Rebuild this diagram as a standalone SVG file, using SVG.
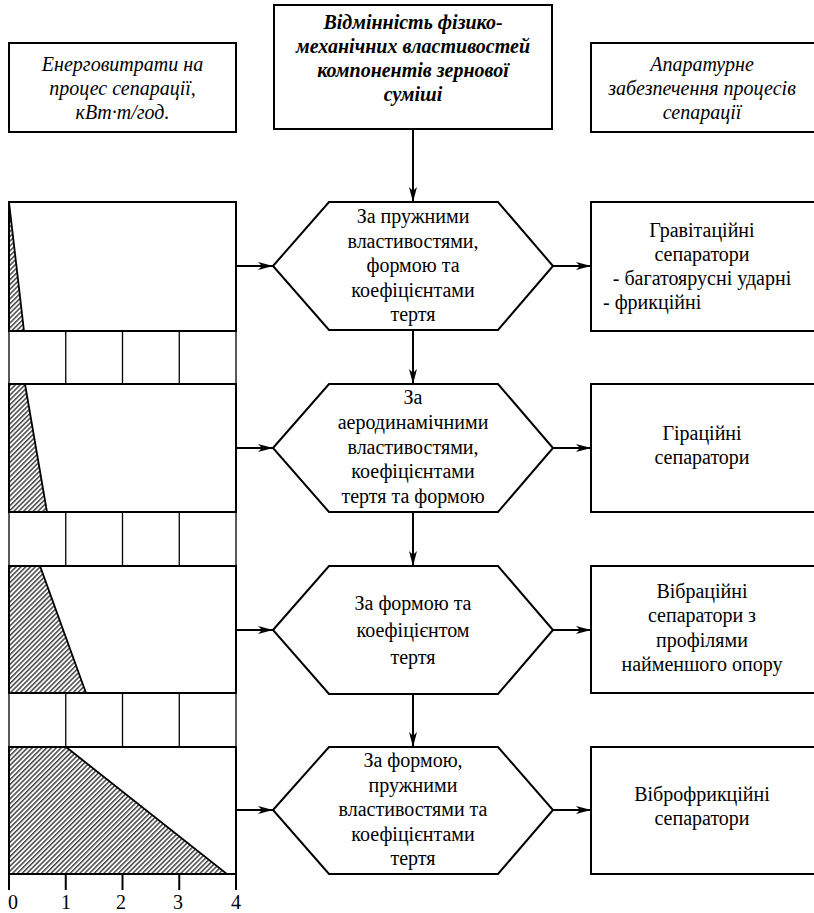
<svg xmlns="http://www.w3.org/2000/svg" width="814" height="913" viewBox="0 0 814 913">
<defs>
<pattern id="hatch" patternUnits="userSpaceOnUse" width="3.4" height="3.4" patternTransform="rotate(45)">
<rect width="3.4" height="3.4" fill="#fff"/>
<line x1="0.8" y1="0" x2="0.8" y2="3.4" stroke="#000" stroke-width="1.1"/>
</pattern>
<marker id="arr" markerUnits="userSpaceOnUse" markerWidth="16" markerHeight="10" refX="15" refY="5" orient="auto">
<path d="M0,1 L15,5 L0,9 L4,5 z" fill="#000"/>
</marker>
</defs>
<rect width="814" height="913" fill="#fff"/>

<g id="energy-header">
<rect x="9" y="43" width="227" height="89" fill="#fff" stroke="#000" stroke-width="2"/>
<text x="122.5" y="71" text-anchor="middle" style="font-family:'Liberation Serif','Times New Roman',serif;font-size:20px;font-style:italic">Енерговитрати на</text>
<text x="122.5" y="95" text-anchor="middle" style="font-family:'Liberation Serif','Times New Roman',serif;font-size:20px;font-style:italic">процес сепарації,</text>
<text x="122.5" y="119" text-anchor="middle" style="font-family:'Liberation Serif','Times New Roman',serif;font-size:20px;font-style:italic">кВт·т/год.</text>
</g>
<g id="main-header">
<rect x="274" y="5" width="278" height="124" fill="#fff" stroke="#000" stroke-width="2"/>
<text x="413" y="29" text-anchor="middle" style="font-family:'Liberation Serif','Times New Roman',serif;font-size:20px;font-style:italic;font-weight:bold">Відмінність фізико-</text>
<text x="413" y="53" text-anchor="middle" style="font-family:'Liberation Serif','Times New Roman',serif;font-size:20px;font-style:italic;font-weight:bold">механічних властивостей</text>
<text x="413" y="77" text-anchor="middle" style="font-family:'Liberation Serif','Times New Roman',serif;font-size:20px;font-style:italic;font-weight:bold">компонентів зернової</text>
<text x="413" y="101" text-anchor="middle" style="font-family:'Liberation Serif','Times New Roman',serif;font-size:20px;font-style:italic;font-weight:bold">суміші</text>
</g>
<g id="equipment-header">
<rect x="591" y="43" width="226" height="89" fill="#fff" stroke="#000" stroke-width="2"/>
<text x="702" y="71" text-anchor="middle" style="font-family:'Liberation Serif','Times New Roman',serif;font-size:20px;font-style:italic">Апаратурне</text>
<text x="702" y="95" text-anchor="middle" style="font-family:'Liberation Serif','Times New Roman',serif;font-size:20px;font-style:italic">забезпечення процесів</text>
<text x="702" y="119" text-anchor="middle" style="font-family:'Liberation Serif','Times New Roman',serif;font-size:20px;font-style:italic">сепарації</text>
</g>

<g id="energy-chart" stroke="#000">
<g fill="#fff" stroke-width="2">
<rect x="9" y="202" width="227" height="129"/>
<rect x="9" y="384" width="227" height="128"/>
<rect x="9" y="566" width="227" height="127"/>
<rect x="9" y="747" width="227" height="127"/>
</g>
<g fill="url(#hatch)" stroke-width="1.8">
<polygon points="9,202 24,331 9,331"/>
<polygon points="9,384 25,384 47,512 9,512"/>
<polygon points="9,566 40,566 86,693 9,693"/>
<polygon points="9,747 66,747 227,874 9,874"/>
</g>
<g fill="none" stroke-width="2">
<rect x="9" y="202" width="227" height="129"/>
<rect x="9" y="384" width="227" height="128"/>
<rect x="9" y="566" width="227" height="127"/>
<rect x="9" y="747" width="227" height="127"/>
</g>
<g fill="none" stroke-width="1.3">
<line x1="65.75" y1="331" x2="65.75" y2="384"/>
<line x1="122.5" y1="331" x2="122.5" y2="384"/>
<line x1="179.25" y1="331" x2="179.25" y2="384"/>
<line x1="9" y1="331" x2="9" y2="384"/>
<line x1="236" y1="331" x2="236" y2="384"/>
<line x1="65.75" y1="512" x2="65.75" y2="566"/>
<line x1="122.5" y1="512" x2="122.5" y2="566"/>
<line x1="179.25" y1="512" x2="179.25" y2="566"/>
<line x1="9" y1="512" x2="9" y2="566"/>
<line x1="236" y1="512" x2="236" y2="566"/>
<line x1="65.75" y1="693" x2="65.75" y2="747"/>
<line x1="122.5" y1="693" x2="122.5" y2="747"/>
<line x1="179.25" y1="693" x2="179.25" y2="747"/>
<line x1="9" y1="693" x2="9" y2="747"/>
<line x1="236" y1="693" x2="236" y2="747"/>
</g>
<g stroke-width="2">
<line x1="9" y1="874" x2="9" y2="890"/>
<line x1="65.75" y1="874" x2="65.75" y2="890"/>
<line x1="122.5" y1="874" x2="122.5" y2="890"/>
<line x1="179.25" y1="874" x2="179.25" y2="890"/>
<line x1="236" y1="874" x2="236" y2="890"/>
</g>
</g>
<g id="axis-labels">
<text x="13" y="909" text-anchor="middle" style="font-family:'Liberation Serif','Times New Roman',serif;font-size:20px">0</text>
<text x="66" y="909" text-anchor="middle" style="font-family:'Liberation Serif','Times New Roman',serif;font-size:20px">1</text>
<text x="121" y="909" text-anchor="middle" style="font-family:'Liberation Serif','Times New Roman',serif;font-size:20px">2</text>
<text x="178" y="909" text-anchor="middle" style="font-family:'Liberation Serif','Times New Roman',serif;font-size:20px">3</text>
<text x="236" y="909" text-anchor="middle" style="font-family:'Liberation Serif','Times New Roman',serif;font-size:20px">4</text>
</g>

<g id="hex1">
<polygon points="273,266 329,202 498,202 553,266 498,330 329,330" fill="#fff" stroke="#000" stroke-width="2"/>
<text x="413" y="223" text-anchor="middle" style="font-family:'Liberation Serif','Times New Roman',serif;font-size:20px">За пружними</text>
<text x="413" y="247.5" text-anchor="middle" style="font-family:'Liberation Serif','Times New Roman',serif;font-size:20px">властивостями,</text>
<text x="413" y="272" text-anchor="middle" style="font-family:'Liberation Serif','Times New Roman',serif;font-size:20px">формою та</text>
<text x="413" y="296.5" text-anchor="middle" style="font-family:'Liberation Serif','Times New Roman',serif;font-size:20px">коефіцієнтами</text>
<text x="413" y="321" text-anchor="middle" style="font-family:'Liberation Serif','Times New Roman',serif;font-size:20px">тертя</text>
</g>
<g id="hex2">
<polygon points="273,448 329,384 498,384 553,448 498,512 329,512" fill="#fff" stroke="#000" stroke-width="2"/>
<text x="413" y="404" text-anchor="middle" style="font-family:'Liberation Serif','Times New Roman',serif;font-size:20px">За</text>
<text x="413" y="429" text-anchor="middle" style="font-family:'Liberation Serif','Times New Roman',serif;font-size:20px">аеродинамічними</text>
<text x="413" y="454" text-anchor="middle" style="font-family:'Liberation Serif','Times New Roman',serif;font-size:20px">властивостями,</text>
<text x="413" y="478" text-anchor="middle" style="font-family:'Liberation Serif','Times New Roman',serif;font-size:20px">коефіцієнтами</text>
<text x="413" y="503" text-anchor="middle" style="font-family:'Liberation Serif','Times New Roman',serif;font-size:20px">тертя та формою</text>
</g>
<g id="hex3">
<polygon points="273,630 329,566 498,566 553,630 498,694 329,694" fill="#fff" stroke="#000" stroke-width="2"/>
<text x="413" y="610" text-anchor="middle" style="font-family:'Liberation Serif','Times New Roman',serif;font-size:20px">За формою та</text>
<text x="413" y="637" text-anchor="middle" style="font-family:'Liberation Serif','Times New Roman',serif;font-size:20px">коефіцієнтом</text>
<text x="413" y="664" text-anchor="middle" style="font-family:'Liberation Serif','Times New Roman',serif;font-size:20px">тертя</text>
</g>
<g id="hex4">
<polygon points="273,810 329,747 498,747 553,810 498,874 329,874" fill="#fff" stroke="#000" stroke-width="2"/>
<text x="413" y="767" text-anchor="middle" style="font-family:'Liberation Serif','Times New Roman',serif;font-size:20px">За формою,</text>
<text x="413" y="791.5" text-anchor="middle" style="font-family:'Liberation Serif','Times New Roman',serif;font-size:20px">пружними</text>
<text x="413" y="816" text-anchor="middle" style="font-family:'Liberation Serif','Times New Roman',serif;font-size:20px">властивостями та</text>
<text x="413" y="840.5" text-anchor="middle" style="font-family:'Liberation Serif','Times New Roman',serif;font-size:20px">коефіцієнтами</text>
<text x="413" y="865" text-anchor="middle" style="font-family:'Liberation Serif','Times New Roman',serif;font-size:20px">тертя</text>
</g>

<g id="eq1">
<rect x="591" y="202" width="226" height="129" fill="#fff" stroke="#000" stroke-width="2"/>
<text x="702" y="237" text-anchor="middle" style="font-family:'Liberation Serif','Times New Roman',serif;font-size:20px">Гравітаційні</text>
<text x="702" y="261" text-anchor="middle" style="font-family:'Liberation Serif','Times New Roman',serif;font-size:20px">сепаратори</text>
<text x="702" y="285" text-anchor="middle" style="font-family:'Liberation Serif','Times New Roman',serif;font-size:20px">- багатоярусні ударні</text>
<text x="603" y="309" style="font-family:'Liberation Serif','Times New Roman',serif;font-size:20px">- фрикційні</text>
</g>
<g id="eq2">
<rect x="591" y="384" width="226" height="128" fill="#fff" stroke="#000" stroke-width="2"/>
<text x="702" y="440" text-anchor="middle" style="font-family:'Liberation Serif','Times New Roman',serif;font-size:20px">Гіраційні</text>
<text x="702" y="464" text-anchor="middle" style="font-family:'Liberation Serif','Times New Roman',serif;font-size:20px">сепаратори</text>
</g>
<g id="eq3">
<rect x="591" y="566" width="226" height="127" fill="#fff" stroke="#000" stroke-width="2"/>
<text x="702" y="598" text-anchor="middle" style="font-family:'Liberation Serif','Times New Roman',serif;font-size:20px">Вібраційні</text>
<text x="702" y="622" text-anchor="middle" style="font-family:'Liberation Serif','Times New Roman',serif;font-size:20px">сепаратори з</text>
<text x="702" y="647" text-anchor="middle" style="font-family:'Liberation Serif','Times New Roman',serif;font-size:20px">профілями</text>
<text x="702" y="671" text-anchor="middle" style="font-family:'Liberation Serif','Times New Roman',serif;font-size:20px">найменшого опору</text>
</g>
<g id="eq4">
<rect x="591" y="747" width="226" height="127" fill="#fff" stroke="#000" stroke-width="2"/>
<text x="702" y="801" text-anchor="middle" style="font-family:'Liberation Serif','Times New Roman',serif;font-size:20px">Віброфрикційні</text>
<text x="702" y="825" text-anchor="middle" style="font-family:'Liberation Serif','Times New Roman',serif;font-size:20px">сепаратори</text>
</g>

<g id="connectors" stroke="#000" stroke-width="2" fill="none" marker-end="url(#arr)">
<line x1="413" y1="129" x2="413" y2="202"/>
<line x1="413" y1="330" x2="413" y2="384"/>
<line x1="413" y1="512" x2="413" y2="566"/>
<line x1="413" y1="694" x2="413" y2="747"/>
<line x1="236" y1="266" x2="273" y2="266"/>
<line x1="236" y1="448" x2="273" y2="448"/>
<line x1="236" y1="630" x2="273" y2="630"/>
<line x1="236" y1="810" x2="273" y2="810"/>
<line x1="553" y1="266" x2="591" y2="266"/>
<line x1="553" y1="448" x2="591" y2="448"/>
<line x1="553" y1="630" x2="591" y2="630"/>
<line x1="553" y1="810" x2="591" y2="810"/>
</g>
</svg>
